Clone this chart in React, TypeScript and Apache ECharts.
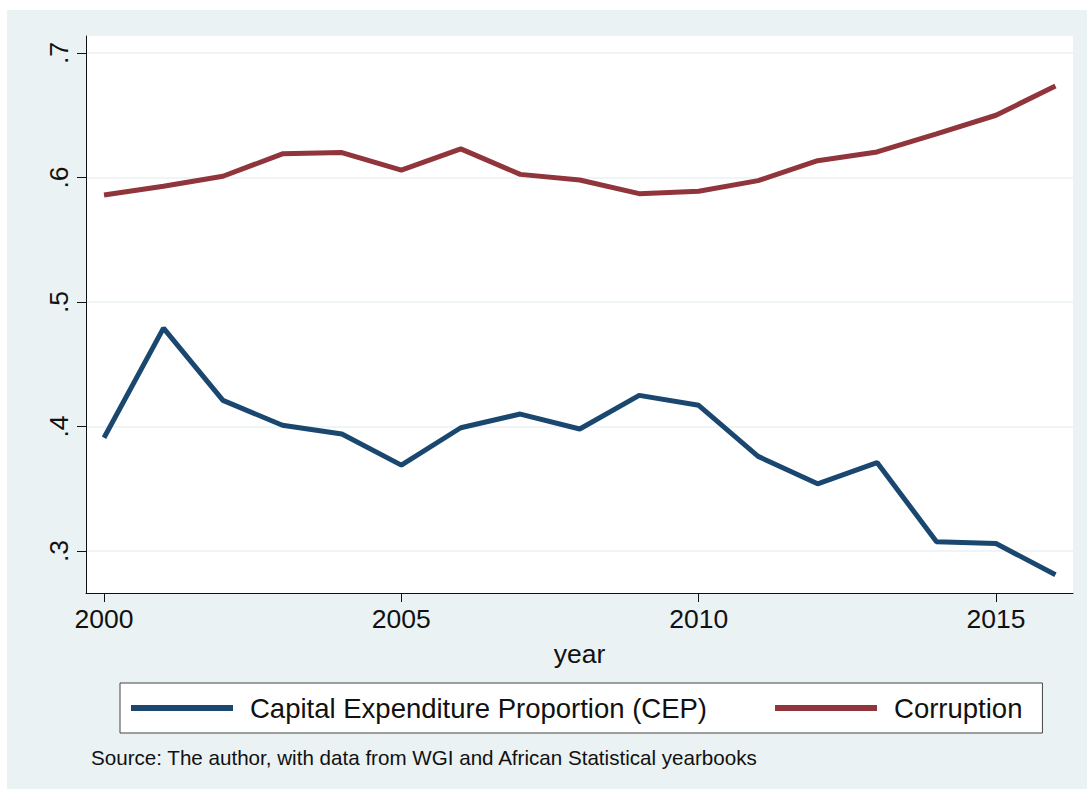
import React, { useEffect, useRef } from "react";
import * as echarts from "echarts";

const years = [2000, 2001, 2002, 2003, 2004, 2005, 2006, 2007, 2008, 2009, 2010, 2011, 2012, 2013, 2014, 2015, 2016];
const cep = [0.391, 0.479, 0.421, 0.401, 0.394, 0.369, 0.399, 0.410, 0.398, 0.425, 0.417, 0.376, 0.354, 0.371, 0.3075, 0.306, 0.281];
const corruption = [0.586, 0.593, 0.601, 0.619, 0.620, 0.606, 0.623, 0.6025, 0.598, 0.587, 0.589, 0.5975, 0.6135, 0.6205, 0.635, 0.650, 0.6735];
const xTicks = [2000, 2005, 2010, 2015];
const yTicks = [0.3, 0.4, 0.5, 0.6, 0.7];
const seriesNames = ["Capital Expenditure Proportion (CEP)", "Corruption"];
const sourceNote = "Source: The author, with data from WGI and African Statistical yearbooks";

const FONT = "'Liberation Sans', Arial, Helvetica, sans-serif";

export default function App() {
  const ref = useRef<HTMLDivElement>(null);
  useEffect(() => {
    if (!ref.current) return;
    const chart = echarts.init(ref.current, undefined, { renderer: "svg" });
    chart.setOption({
      animation: false,
      backgroundColor: "#eaf2f3",
      textStyle: { fontFamily: FONT },
      title: {
        text: sourceNote,
        left: 84,
        top: 737,
        padding: 0,
        textStyle: { fontFamily: FONT, fontSize: 20.6, fontWeight: "normal", color: "#111" },
      },
      legend: {
        left: 113,
        top: 673,
        padding: [11, 20, 11, 11],
        itemGap: 68,
        itemWidth: 102,
        itemHeight: 6,
        icon: "rect",
        backgroundColor: "#ffffff",
        borderColor: "#444",
        borderWidth: 1,
        borderRadius: 0,
        data: seriesNames,
        textStyle: { fontFamily: FONT, fontSize: 27.5, color: "#111", padding: [0, 0, 0, 12] },
      },
      grid: {
        left: 79,
        top: 26,
        width: 987,
        height: 557,
        show: true,
        backgroundColor: "#ffffff",
        borderWidth: 0,
      },
      xAxis: {
        type: "value",
        min: 1999.697,
        max: 2016.295,
        name: "year",
        nameLocation: "middle",
        nameGap: 47,
        nameTextStyle: { fontFamily: FONT, fontSize: 26.5, color: "#111" },
        axisLine: { show: true, lineStyle: { color: "#111", width: 1 } },
        axisTick: { show: true, length: 9, customValues: xTicks, lineStyle: { color: "#111" } },
        axisLabel: {
          customValues: xTicks,
          fontFamily: FONT,
          fontSize: 26.5,
          color: "#111",
          margin: 12,
          formatter: (v: number) => String(Math.round(v)),
        },
        splitLine: { show: false },
      },
      yAxis: {
        type: "value",
        min: 0.26627,
        max: 0.71365,
        axisLine: { show: true, lineStyle: { color: "#111", width: 1 } },
        axisTick: { show: true, length: 9, customValues: yTicks, lineStyle: { color: "#111" } },
        axisLabel: {
          customValues: yTicks,
          rotate: 90,
          fontFamily: FONT,
          fontSize: 26.5,
          color: "#111",
          margin: 14,
          formatter: (v: number) => String(Math.round(v * 10) / 10).replace(/^0/, ""),
        },
        splitLine: { show: true, lineStyle: { color: "#eaf2f3", width: 1.5 } },
      },
      series: [
        {
          name: seriesNames[0],
          type: "line",
          data: years.map((y, i) => [y, cep[i]]),
          symbol: "none",
          color: "#1a476f",
          lineStyle: { width: 5, color: "#1a476f" },
        },
        {
          name: seriesNames[1],
          type: "line",
          data: years.map((y, i) => [y, corruption[i]]),
          symbol: "none",
          color: "#90353b",
          lineStyle: { width: 5, color: "#90353b" },
        },
      ],
    });
    return () => chart.dispose();
  }, []);
  return (
    <div
      ref={ref}
      style={{ position: "absolute", left: 7, top: 10, width: 1080, height: 779 }}
    />
  );
}
